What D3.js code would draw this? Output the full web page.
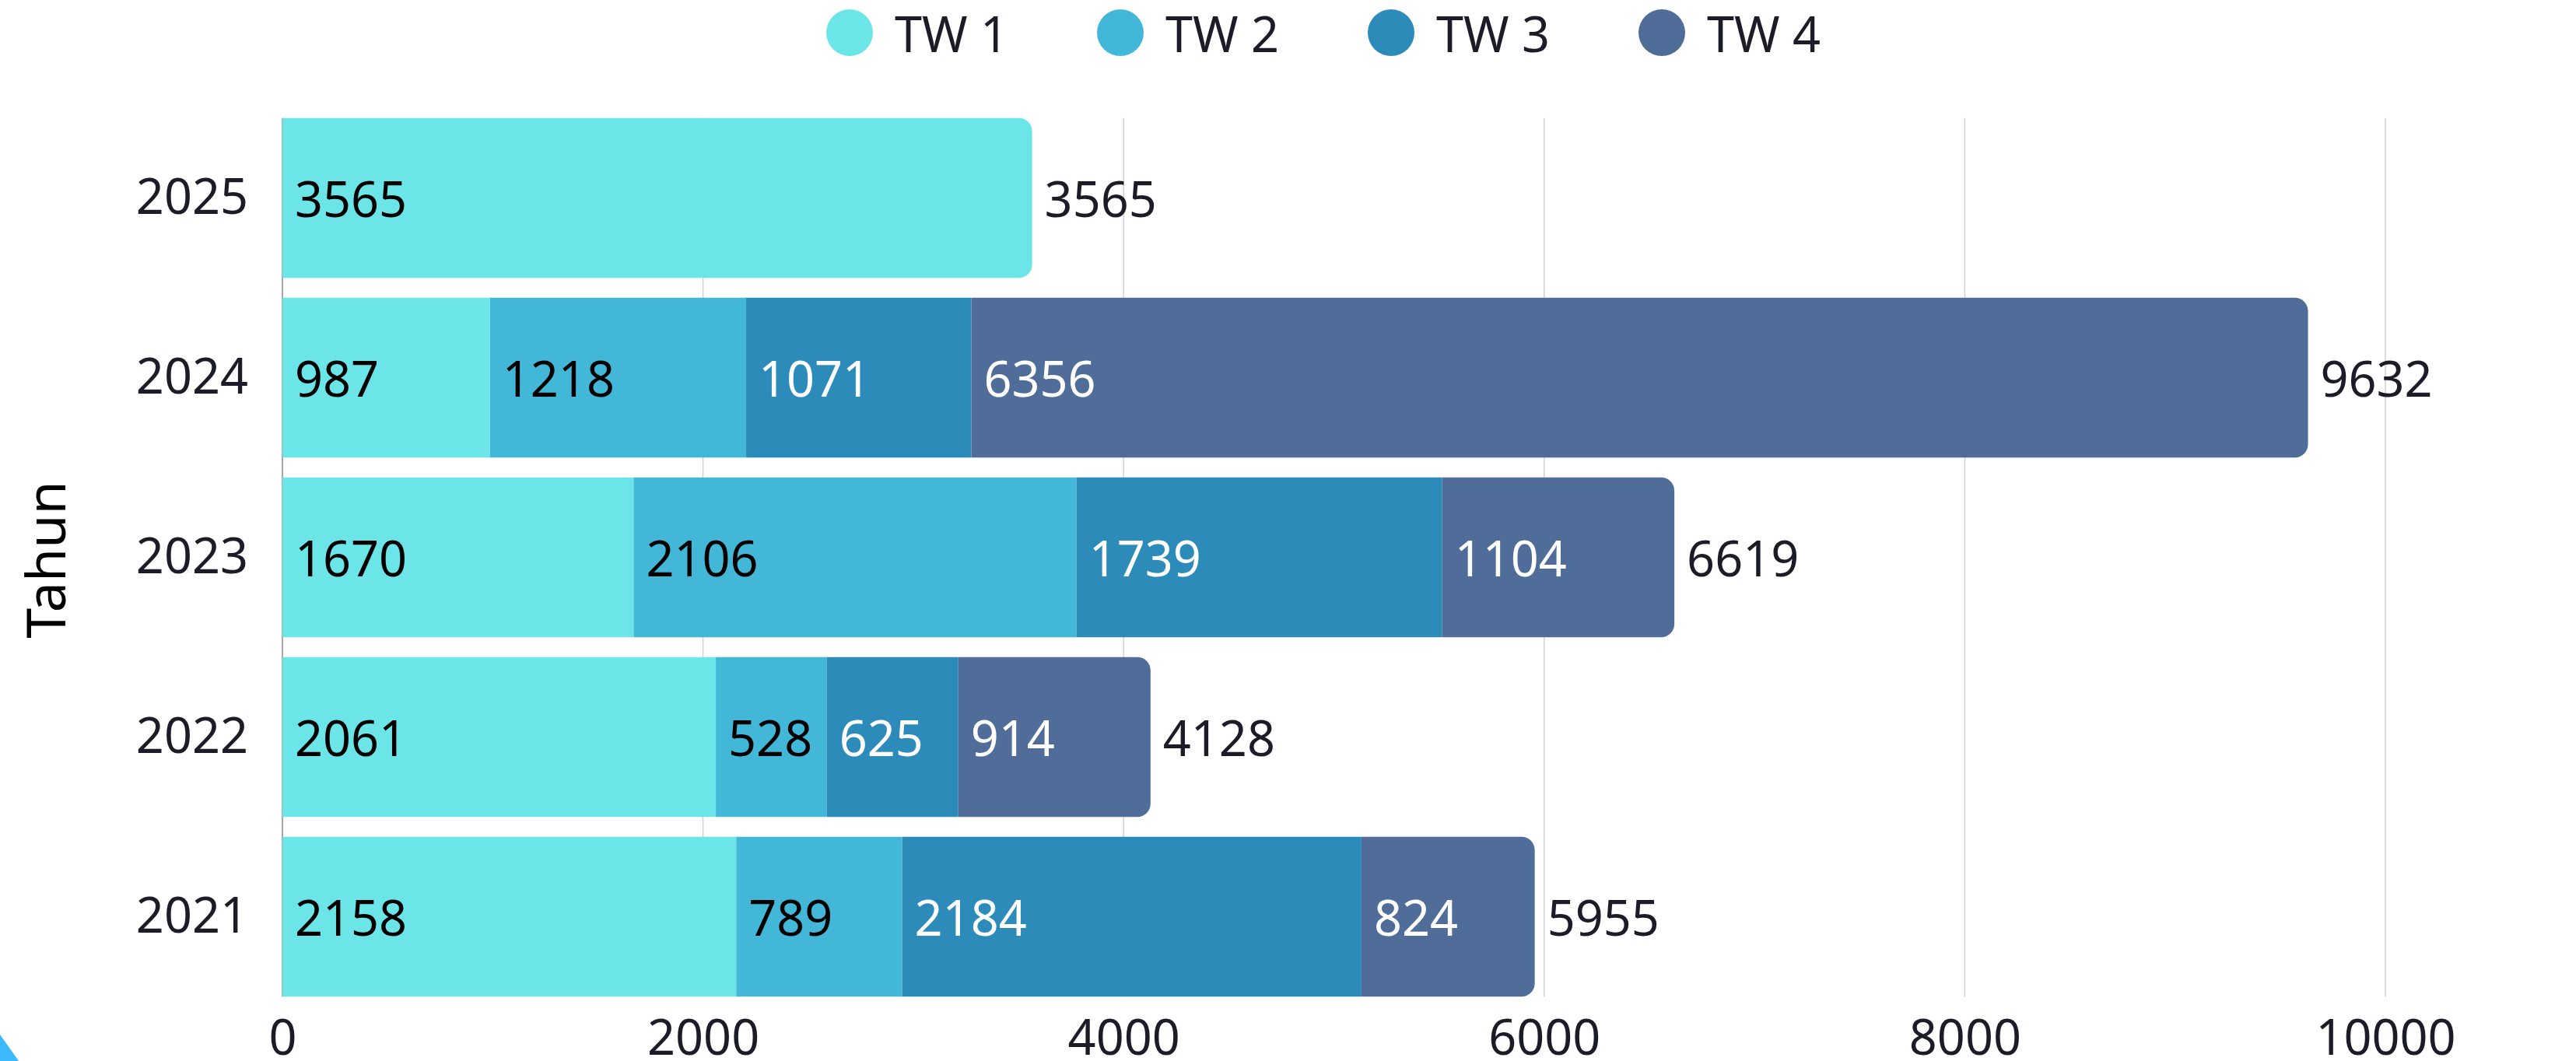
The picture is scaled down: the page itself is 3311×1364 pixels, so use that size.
<!DOCTYPE html>
<html>
<head>
<meta charset="utf-8">
<script src="https://cdn.jsdelivr.net/npm/d3@7"></script>
<style>
  html, body { margin: 0; padding: 0; background: #ffffff; }
  svg { display: block; font-family: "Noto Sans", sans-serif; }
</style>
</head>
<body>
<svg id="chart" width="3311" height="1364"></svg>
<script>
// ---- data ----
const years = ["2025", "2024", "2023", "2022", "2021"];
const seriesNames = ["TW 1", "TW 2", "TW 3", "TW 4"];
const tw1 = [3565, 987, 1670, 2061, 2158];
const tw2 = [0, 1218, 2106, 528, 789];
const tw3 = [0, 1071, 1739, 625, 2184];
const tw4 = [0, 6356, 1104, 914, 824];
const xTicks = [0, 2000, 4000, 6000, 8000, 10000];
const yTitle = "Tahun";

const colors = ["#6ce5e8", "#42b7d7", "#2d8bba", "#4f6d98"];
const labelColors = ["#000000", "#000000", "#ffffff", "#ffffff"];

const seriesValues = [tw1, tw2, tw3, tw4];
const rows = years.map((y, i) => {
  const r = { year: y };
  seriesNames.forEach((s, k) => r[s] = seriesValues[k][i]);
  return r;
});
const stacked = d3.stack().keys(seriesNames)(rows);

const svg = d3.select("#chart");
const FS = 63;

const x = d3.scaleLinear().domain([0, 10000]).range([363, 3066]);
const y = d3.scaleBand().domain(years).range([139, 1294]).paddingInner(0.11).paddingOuter(0.055);

const gridTop = y(years[0]);
const gridBottom = y(years[years.length - 1]) + y.bandwidth();

// gridlines
svg.append("g").selectAll("line").data(xTicks.filter(t => t > 0)).join("line")
  .attr("x1", d => x(d)).attr("x2", d => x(d))
  .attr("y1", gridTop).attr("y2", gridBottom)
  .attr("stroke", "#d2d2d2").attr("stroke-width", 1.5);

// zero axis line
svg.append("line")
  .attr("x1", x(0)).attr("x2", x(0))
  .attr("y1", gridTop).attr("y2", gridBottom)
  .attr("stroke", "#8a8a8a").attr("stroke-width", 1.5);

// last nonzero segment per year
const lastKey = {};
rows.forEach(r => {
  let lk = null;
  seriesNames.forEach(s => { if (r[s] > 0) lk = s; });
  lastKey[r.year] = lk;
});

const R = 17;
function segPath(x0, x1, y0, h, rounded) {
  const w = x1 - x0;
  if (!rounded) return `M${x0},${y0}H${x1}V${y0 + h}H${x0}Z`;
  const r = Math.min(R, w, h / 2);
  return `M${x0},${y0}H${x1 - r}A${r},${r} 0 0 1 ${x1},${y0 + r}V${y0 + h - r}A${r},${r} 0 0 1 ${x1 - r},${y0 + h}H${x0}Z`;
}

const bars = svg.append("g");
stacked.forEach((layer, k) => {
  const g = bars.append("g");
  const segs = layer.map(d => ({ d, key: layer.key })).filter(o => o.d[1] - o.d[0] > 0);
  g.selectAll("path").data(segs).join("path")
    .attr("d", o => segPath(x(o.d[0]), x(o.d[1]), y(o.d.data.year), y.bandwidth(), lastKey[o.d.data.year] === o.key))
    .attr("fill", colors[k]);
  g.selectAll("text").data(segs).join("text")
    .attr("x", o => x(o.d[0]) + 16)
    .attr("y", o => y(o.d.data.year) + y.bandwidth() / 2)
    .attr("dominant-baseline", "central")
    .attr("font-size", FS)
    .attr("fill", labelColors[k])
    .text(o => o.d[1] - o.d[0]);
});

// totals
svg.append("g").selectAll("text").data(rows).join("text")
  .attr("x", r => x(d3.sum(seriesNames, s => r[s])) + 16)
  .attr("y", r => y(r.year) + y.bandwidth() / 2)
  .attr("dominant-baseline", "central")
  .attr("font-size", FS)
  .attr("fill", "#1c1c28")
  .text(r => d3.sum(seriesNames, s => r[s]));

// x axis
const xAxis = svg.append("g")
  .attr("transform", `translate(0,${gridBottom})`)
  .call(d3.axisBottom(x).tickValues(xTicks).tickSize(0).tickPadding(30).tickFormat(d3.format("d")));
xAxis.select(".domain").remove();
xAxis.selectAll("text").attr("font-size", FS).attr("fill", "#1c1c28").attr("font-family", "Noto Sans, sans-serif");

// y axis
const yAxis = svg.append("g")
  .attr("transform", `translate(${x(0)},0)`)
  .call(d3.axisLeft(y).tickSize(0).tickPadding(44));
yAxis.select(".domain").remove();
yAxis.selectAll("text").attr("font-size", FS).attr("fill", "#1c1c28").attr("font-family", "Noto Sans, sans-serif");

// y title
svg.append("text")
  .attr("transform", `translate(57,${(gridTop + gridBottom) / 2 + 3}) rotate(-90)`)
  .attr("text-anchor", "middle")
  .attr("dominant-baseline", "central")
  .attr("font-size", 70)
  .attr("fill", "#000000")
  .text(yTitle);

// legend
const legend = svg.append("g");
const legStart = 1092, legStep = 348, legY = 42;
seriesNames.forEach((s, k) => {
  const cx = legStart + k * legStep;
  legend.append("circle").attr("cx", cx).attr("cy", legY).attr("r", 30).attr("fill", colors[k]);
  legend.append("text").attr("x", cx + 58).attr("y", legY)
    .attr("dominant-baseline", "central")
    .attr("font-size", FS).attr("fill", "#1c1c28").text(s);
});

// decoration at bottom-left corner
svg.append("path")
  .attr("d", "M0,1330 L24,1364 L0,1364 Z")
  .attr("fill", "#3bbaff");
</script>
</body>
</html>
